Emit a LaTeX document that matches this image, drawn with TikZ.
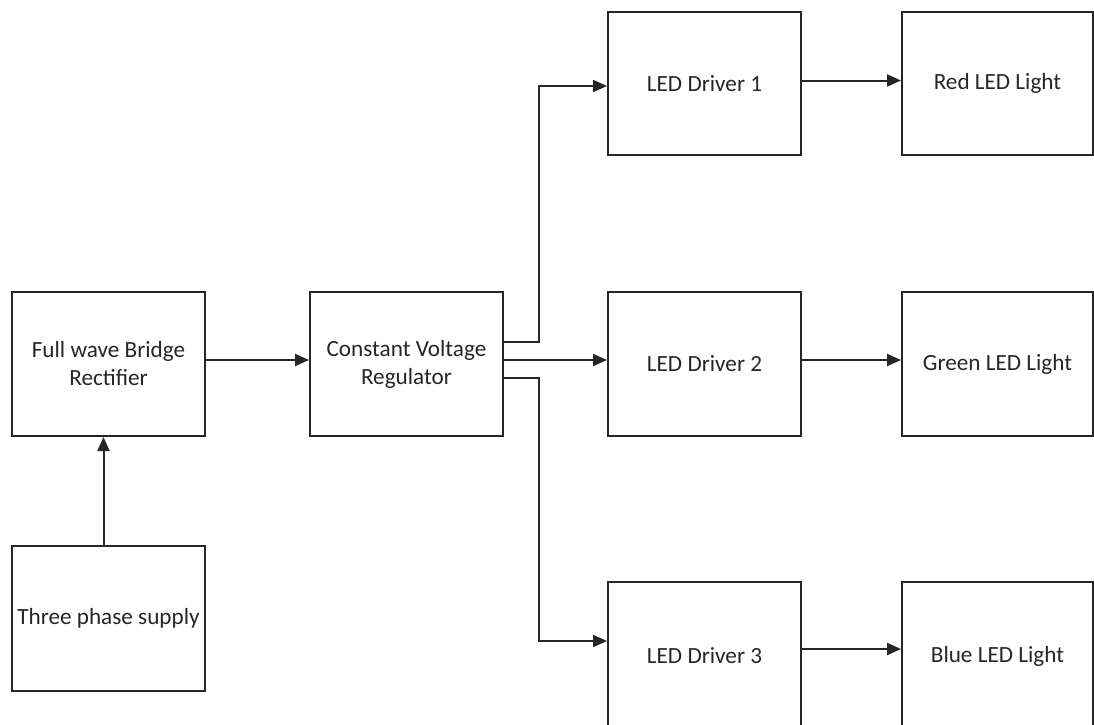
\documentclass[tikz,border=0pt]{standalone}
\usepackage{fontspec}
\setmainfont{Carlito}
\usetikzlibrary{arrows.meta}
\begin{document}
\begin{tikzpicture}[x=1pt,y=-1pt,
  blk/.style={draw=black!85, line width=2pt, minimum width=193pt, minimum height=144pt,
    inner sep=0pt, align=center, text=black!85, font=\fontsize{23.2}{28}\selectfont},
  arr/.style={draw=black!85, line width=2pt, -{Triangle[length=14pt,width=12pt]}}]
\useasboundingbox (0,0) rectangle (1094,724);
\node[blk] (rect) at (108.5,364) {Full wave Bridge\\Rectifier};
\node[blk, minimum height=145pt] (supply) at (108.5,618.5) {Three phase supply};
\node[blk] (reg) at (406.5,364) {Constant Voltage\\Regulator};
\node[blk, minimum height=143pt] (drv1) at (704.5,83.5) {LED Driver 1};
\node[blk] (drv2) at (704.5,364) {LED Driver 2};
\node[blk, minimum height=148pt] (drv3) at (704.5,656) {LED Driver 3};
\node[blk, minimum width=191pt, minimum height=143pt] (red) at (997.5,83.5) {Red LED Light};
\node[blk, minimum width=191pt] (green) at (997.5,364) {Green LED Light};
\node[blk, minimum width=191pt, minimum height=148pt] (blue) at (997.5,656) {Blue LED Light};
\draw[arr] ([xshift=-5pt]supply.north) -- ([xshift=-5pt]rect.south);
\draw[arr] ([yshift=4pt]rect.east) -- ([yshift=4pt]reg.west);
\draw[arr] ([yshift=22pt]reg.east) -- ++(35,0) |- ([yshift=-2.5pt]drv1.west);
\draw[arr] ([yshift=4pt]reg.east) -- ([yshift=4pt]drv2.west);
\draw[arr] ([yshift=-14pt]reg.east) -- ++(35,0) |- ([yshift=15pt]drv3.west);
\draw[arr] ([yshift=3pt]drv1.east) -- ([yshift=3pt]red.west);
\draw[arr] ([yshift=4pt]drv2.east) -- ([yshift=4pt]green.west);
\draw[arr] ([yshift=7pt]drv3.east) -- ([yshift=7pt]blue.west);
\end{tikzpicture}
\end{document}
